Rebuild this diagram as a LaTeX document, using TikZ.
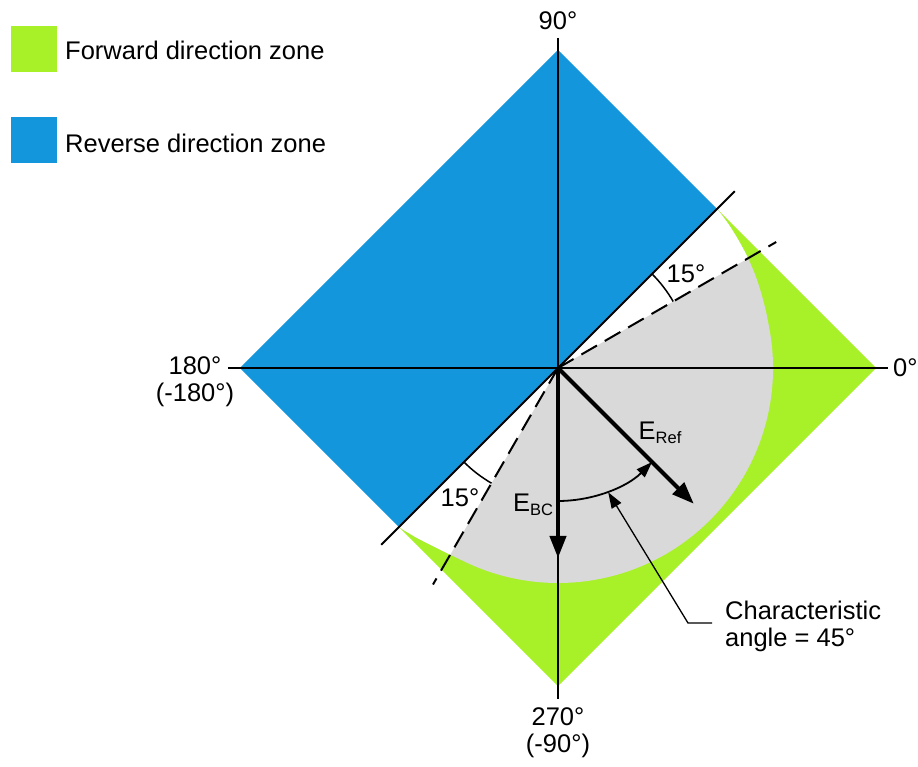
\documentclass[tikz,border=0pt]{standalone}
\usepackage{fontspec}
\setmainfont{Liberation Sans}
\usetikzlibrary{arrows.meta}
\definecolor{fwdgreen}{RGB}{168,240,40}
\definecolor{revblue}{RGB}{20,150,220}
\definecolor{zonegray}{RGB}{217,217,217}
\begin{document}
\begin{tikzpicture}[x=1pt,y=1pt,
  lbl/.style={font=\fontsize{25.5}{27}\selectfont, inner sep=0pt},
  axisline/.style={line width=2pt, black},
  dashline/.style={line width=2pt, dash pattern=on 18pt off 9pt},
  thickarrow/.style={line width=4pt, -{Triangle[length=22pt,width=16pt]}},
  anglearc/.style={line width=1.5pt},
  chararc/.style={line width=1.8pt, -{Triangle[length=16pt,width=11pt]}},
  callout/.style={line width=1.3pt, -{Triangle[length=16pt,width=11pt]}},
  legendbox/.style={minimum size=46pt, inner sep=0pt}]
\useasboundingbox (-558,-399) rectangle (360,368);

% zones
\fill[fwdgreen] (159,159) -- (318,0) -- (0,-318) -- (-159,-159) -- cycle;
\fill[zonegray] (0,0) -- plot[smooth] coordinates {(45:225pt) (40:223pt) (35:221pt) (30:219.5pt) (25:218pt) (20:216.5pt) (15:215.5pt) (10:215pt)}
  arc[start angle=10,end angle=-115,radius=215pt]
  -- plot[smooth] coordinates {(-115:215pt) (-120:215.5pt) (-125:217.5pt) (-130:221pt) (-135:225pt)} -- cycle;
\begin{scope}
  \clip (0,0) -- plot[smooth] coordinates {(45:225pt) (40:223pt) (35:221pt) (30:219.5pt) (25:218pt) (20:216.5pt) (15:215.5pt) (10:215pt)}
    arc[start angle=10,end angle=-115,radius=215pt]
    -- plot[smooth] coordinates {(-115:215pt) (-120:215.5pt) (-125:217.5pt) (-130:221pt) (-135:225pt)} -- cycle;
  \fill[white] (0,0) -- (30:300pt) -- (45:300pt) -- cycle;
  \fill[white] (0,0) -- (225:300pt) -- (240:300pt) -- cycle;
\end{scope}
\fill[revblue] (0,318) -- (-318,0) -- (-159,-159) -- (159,159) -- cycle;

% coordinates
\coordinate (O) at (0,0);
\coordinate (top) at (0,330);
\coordinate (bot) at (0,-331);
\coordinate (lft) at (-330,0);
\coordinate (rgt) at (330,0);
\coordinate (d1) at (225:250pt);
\coordinate (d2) at (45:250pt);
\coordinate (u30) at (30:252pt);
\coordinate (l240) at (240:250pt);
\coordinate (ref) at (-45:192pt);
\coordinate (bc) at (0,-190);
\coordinate (a1) at (-90:133pt);
\coordinate (q1) at (30:133pt);
\coordinate (q2) at (225:133pt);
\coordinate (tip) at (-68:134pt);
\coordinate (c1) at (130,-255);

% axes and lines
\draw[axisline] (lft) -- (rgt);
\draw[axisline] (top) -- (bot);
\draw[axisline] (d1) -- (d2);
\draw[dashline] (O) -- (u30);
\draw[dashline] (O) -- (l240);

% arrows
\draw[thickarrow] (O) -- (ref);
\draw[thickarrow] (O) -- (bc);
\draw[chararc] (a1) arc[start angle=-90,end angle=-45,radius=133pt];
\draw[anglearc] (q1) arc[start angle=30,end angle=45,radius=133pt];
\draw[anglearc] (q2) arc[start angle=225,end angle=240,radius=133pt];

% labels
\node[lbl] (l15a) at (128,94) {15°};
\node[lbl] (l15b) at (-98,-130) {15°};
\node[lbl] (eref) at (102,-65) {E\raisebox{-0.3ex}{\fontsize{16.5}{16.5}\selectfont Ref}};
\node[lbl] (ebc) at (-25,-137) {E\raisebox{-0.3ex}{\fontsize{16.5}{16.5}\selectfont BC}};
\node[lbl, anchor=west, align=left] (char) at (167,-258) {Characteristic\\angle = 45°};
\draw[callout] ([xshift=-13pt,yshift=3pt]char.west) -- (c1) -- (tip);

\node[lbl] (n90) at (0,347) {90°};
\node[lbl, anchor=west] (n0) at (335,0) {0°};
\node[lbl, align=center] (n180) at (-363,-14) {180°\\(-180°)};
\node[lbl, align=center] (n270) at (0,-365) {270°\\(-90°)};

% legend
\node[legendbox, fill=fwdgreen] (gsq) at (-524,319) {};
\node[legendbox, fill=revblue] (bsq) at (-524,228) {};
\node[lbl, anchor=west] (gtxt) at (-493,318) {Forward direction zone};
\node[lbl, anchor=west] (btxt) at (-493,225) {Reverse direction zone};
\end{tikzpicture}
\end{document}
